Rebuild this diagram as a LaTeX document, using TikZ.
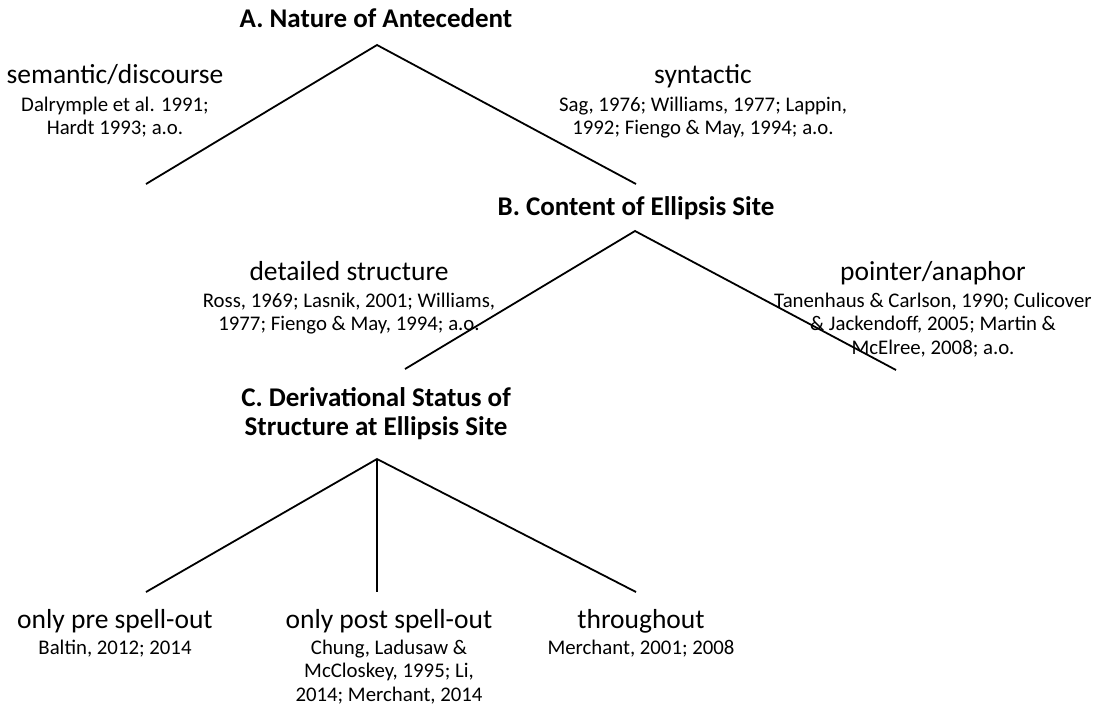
\documentclass[tikz,border=0pt]{standalone}
\usepackage{fontspec}
\setmainfont{Carlito}
\newcommand\mystack[1]{\begin{tabular}[t]{@{}c@{}}#1\end{tabular}}
\begin{document}
\begin{tikzpicture}[x=1pt,y=-1pt,
  head/.style={font=\fontsize{27}{29}\selectfont\bfseries, inner sep=0pt, anchor=base},
  lab/.style={font=\fontsize{27.5}{30}\selectfont, inner sep=0pt, anchor=base},
  cite/.style={font=\fontsize{20.8}{23.6}\selectfont, inner sep=0pt, anchor=base},
  branch/.style={line width=1.8pt, line join=miter}]
\useasboundingbox (0,0) rectangle (1102,710);
% tree A
\coordinate (aTop) at (377,45);
\coordinate (aL) at (146,184);
\coordinate (aR) at (636,184);
% tree B
\coordinate (bTop) at (635,231);
\coordinate (bL) at (405,369);
\coordinate (bR) at (896,370);
% tree C
\coordinate (cTop) at (377,459);
\coordinate (cL) at (146,592);
\coordinate (cM) at (377,592);
\coordinate (cR) at (636,592);
\draw[branch] (aL) -- (aTop) -- (aR);
\draw[branch] (bL) -- (bTop) -- (bR);
\draw[branch] (cL) -- (cTop) -- (cR);
\draw[branch] (cTop) -- (cM);
% headings
\node[head] (ha) at (376,27) {A. Nature of Antecedent};
\node[head] (hb) at (636,215) {B. Content of Ellipsis Site};
\node[head] (hc) at (376,406) {\fontsize{27}{29}\selectfont\mystack{C. Derivational Status of\\Structure at Ellipsis Site}};
% A options
\node[lab] (sem) at (115,83) {semantic/discourse};
\node[cite] (semc) at (115,111) {\mystack{Dalrymple et al. 1991;\\Hardt 1993; a.o.}};
\node[lab] (syn) at (703,83) {syntactic};
\node[cite] (sync) at (703,111) {\mystack{Sag, 1976; Williams, 1977; Lappin,\\1992; Fiengo \& May, 1994; a.o.}};
% B options
\node[lab] (det) at (349,280) {detailed structure};
\node[cite] (detc) at (349,307) {\mystack{Ross, 1969; Lasnik, 2001; Williams,\\1977; Fiengo \& May, 1994; a.o.}};
\node[lab] (ptr) at (933,280) {pointer/anaphor};
\node[cite] (ptrc) at (933,307) {\mystack{Tanenhaus \& Carlson, 1990; Culicover\\\& Jackendoff, 2005; Martin \&\\McElree, 2008; a.o.}};
% C options
\node[lab] (pre) at (115,628) {only pre spell-out};
\node[cite] (prec) at (115,654) {\mystack{Baltin, 2012; 2014}};
\node[lab] (post) at (389,628) {only post spell-out};
\node[cite] (postc) at (389,654) {\mystack{Chung, Ladusaw \&\\McCloskey, 1995; Li,\\2014; Merchant, 2014}};
\node[lab] (thr) at (641,628) {throughout};
\node[cite] (thrc) at (641,654) {\mystack{Merchant, 2001; 2008}};
\end{tikzpicture}
\end{document}
